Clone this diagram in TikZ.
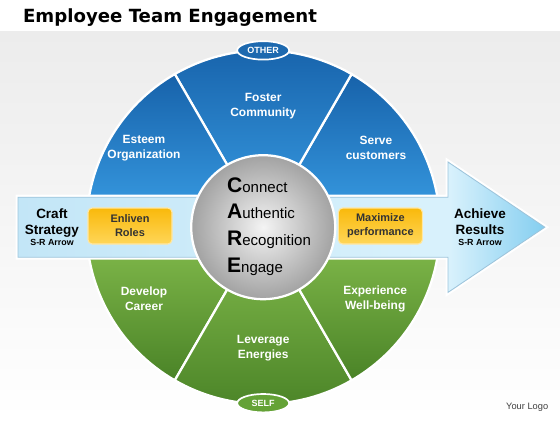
\documentclass[tikz,border=0pt]{standalone}
\usepackage{fontspec}
\setmainfont{Liberation Sans}
\newfontfamily\titlefont{DejaVu Sans}
\usepackage{tikz}
\usetikzlibrary{shapes.geometric}

\definecolor{blueD}{HTML}{1762AA}
\definecolor{blueL}{HTML}{3A9FE6}
\definecolor{greenD}{HTML}{4A8327}
\definecolor{greenL}{HTML}{86BE4E}
\definecolor{bandA}{HTML}{C3E6F7}
\definecolor{bandB}{HTML}{D8F1FC}
\definecolor{headB}{HTML}{84CEF0}
\definecolor{bandline}{HTML}{9DC4DB}
\definecolor{boxA}{HTML}{F9B90B}
\definecolor{boxB}{HTML}{FFD658}
\definecolor{boxline}{HTML}{FFE7A3}
\definecolor{ballA}{HTML}{F4F4F4}
\definecolor{ballB}{HTML}{A2A2A2}
\definecolor{bgtop}{HTML}{ECECEC}
\definecolor{otherfill}{HTML}{1D69AF}
\definecolor{selffill}{HTML}{64A236}

\pgfdeclarehorizontalshading{arrowshade}{100bp}{color(0bp)=(bandA); color(25bp)=(bandA); color(64bp)=(bandB); color(66bp)=(bandB); color(75bp)=(headB); color(100bp)=(headB)}

\newcommand{\srsize}{\fontsize{6.3}{7.5}\selectfont}

\tikzset{
	sector/.style={draw=white, line width=1.6pt},
	sectortext/.style={text=white, align=center, font=\bfseries\fontsize{8.5}{10.7}\selectfont},
	bandtext/.style={align=center, font=\bfseries\fontsize{9.6}{11.4}\selectfont},
	valbox/.style={rounded corners=3pt, draw=boxline, line width=0.8pt, top color=boxA, bottom color=boxB, minimum width=2.1cm, minimum height=0.9cm, align=center, text=black!80, font=\bfseries\fontsize{7.8}{10}\selectfont},
	tagoval/.style={ellipse, draw=white, line width=1.2pt, minimum width=1.3cm, minimum height=0.46cm, inner sep=0pt, text=white, font=\bfseries\fontsize{6.4}{7}\selectfont},
	caretext/.style={anchor=base west, inner sep=0pt, font=\fontsize{10.7}{12}\selectfont}
}

\begin{document}
\begin{tikzpicture}
	\useasboundingbox (0,0) rectangle (14,10.5);
	\fill[white] (0,0) rectangle (14,10.5);
	\shade[top color=bgtop, bottom color=white] (0,0) rectangle (14,9.72);
	
	\node[anchor=base west, inner sep=0pt, font=\titlefont\bfseries\fontsize{12.9}{14}\selectfont] (title) at (0.57,9.93) {Employee Team Engagement};
	
	\coordinate (c) at (6.58,4.82);
	
	\foreach \a in {0,60,120}
		\shadedraw[sector, top color=blueD, bottom color=blueL] (c) -- ++(\a:4.42) arc (\a:\a+60:4.42) -- cycle;
	\foreach \a in {180,240,300}
		\shadedraw[sector, top color=greenL, bottom color=greenD] (c) -- ++(\a:4.42) arc (\a:\a+60:4.42) -- cycle;
	
	\shadedraw[draw=bandline, line width=0.6pt, shading=arrowshade, preaction={draw=white, line width=3.5pt}] (0.45,4.07) -- (0.45,5.57) -- (11.2,5.57) -- (11.2,6.45) -- (13.62,4.82) -- (11.2,3.19) -- (11.2,4.07) -- cycle;
	
	\shadedraw[draw=white, line width=1.6pt, inner color=ballA, outer color=ballB] (c) circle (1.8);
	
	\node[valbox] (enliven) at (3.25,4.85) {Enliven\\Roles};
	\node[valbox] (maximize) at (9.51,4.85) {Maximize\\performance};
	
	\node[bandtext] (craft) at (1.3,4.82) {Craft\\Strategy\\[-3pt]{\srsize S-R Arrow}};
	\node[bandtext] (achieve) at (12.0,4.82) {Achieve\\Results\\[-3pt]{\srsize S-R Arrow}};
	
	\node[sectortext] (foster) at (6.58,7.85) {Foster\\Community};
	\node[sectortext] (esteem) at (3.6,6.8) {Esteem\\Organization};
	\node[sectortext] (serve) at (9.4,6.8) {Serve\\customers};
	\node[sectortext] (develop) at (3.6,3.03) {Develop\\Career};
	\node[sectortext] (leverage) at (6.58,1.8) {Leverage\\Energies};
	\node[sectortext] (experience) at (9.38,3.03) {Experience\\Well-being};
	
	\foreach \capl/\restl/\yy [count=\i] in {C/onnect/5.70, A/uthentic/5.04, R/ecognition/4.37, E/ngage/3.70}
		\node[caretext] (care\i) at (5.67,\yy) {{\bfseries\fontsize{15}{16}\selectfont\capl}\restl};
	
	\node[tagoval, fill=otherfill] (other) at (6.58,9.24) {OTHER};
	\node[tagoval, fill=selffill] (self) at (6.58,0.42) {SELF};
	
	\node[font=\fontsize{6.6}{8}\selectfont, text=black!75] (logo) at (13.18,0.33) {Your Logo};
\end{tikzpicture}
\end{document}
